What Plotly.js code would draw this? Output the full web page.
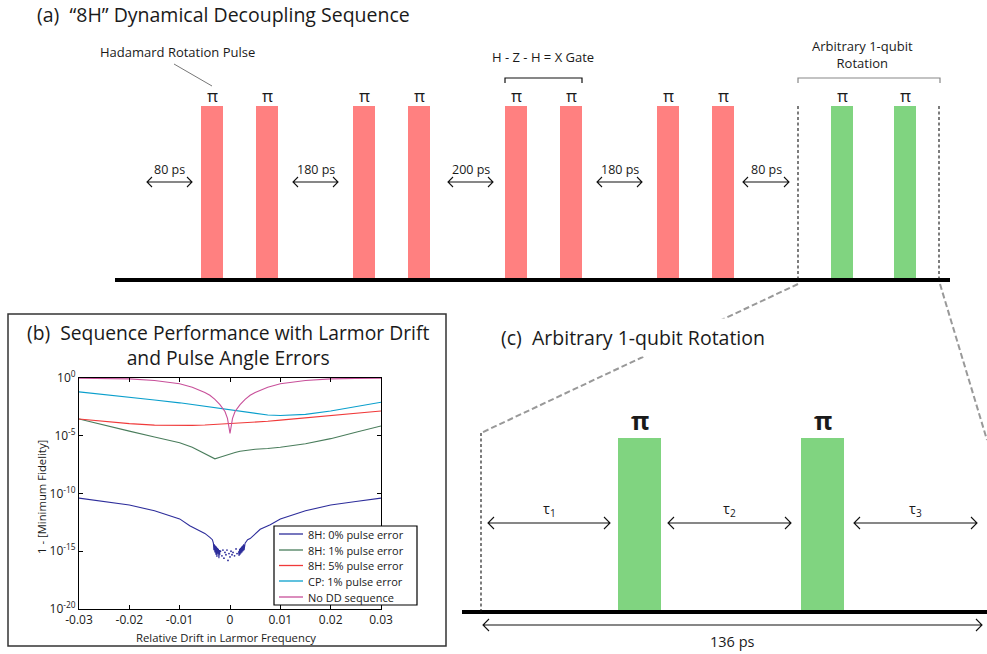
<!DOCTYPE html>
<html><head><meta charset="utf-8">
<script src="https://cdn.plot.ly/plotly-3.0.1.min.js"></script>
<style>html,body{margin:0;padding:0;background:#fff}#chart{width:987px;height:654px}</style>
</head><body><div id="chart"></div>
<script>
// ---------------- DATA (panel b) ----------------
const drift = [-0.03,-0.025,-0.02,-0.015,-0.01,-0.0075,-0.005,-0.004,-0.003,-0.002,-0.001,-0.0005,0,0.0005,0.001,0.002,0.003,0.004,0.005,0.0075,0.01,0.015,0.02,0.025,0.03];
const err8H1 = [2.8e-4,7.9e-5,2.5e-5,7.9e-6,2.5e-6,1.0e-6,2.8e-7,1.6e-7,1.0e-7,1.4e-7,2.0e-7,2.4e-7,2.8e-7,3.2e-7,3.5e-7,4.5e-7,5.2e-7,6.0e-7,6.8e-7,7.9e-7,1.0e-6,2.0e-6,5.6e-6,2.0e-5,7.1e-5];
const err8H5 = [2.8e-4,1.66e-4,1.12e-4,8.3e-5,7.6e-5,7.9e-5,8.5e-5,8.9e-5,9.3e-5,1.0e-4,1.05e-4,1.07e-4,1.12e-4,1.15e-4,1.17e-4,1.26e-4,1.32e-4,1.41e-4,1.51e-4,1.78e-4,2.24e-4,3.55e-4,5.62e-4,8.91e-4,1.41e-3];
const errCP1 = [0.0631,0.038,0.0224,0.0126,0.00708,0.00501,0.00355,0.00316,0.00269,0.00234,0.002,0.00191,0.00178,0.00166,0.00158,0.00135,0.00117,0.001,8.9e-4,6.3e-4,5.6e-4,7.1e-4,0.00141,0.00331,0.00794];
const errNoDD = [0.955,0.933,0.832,0.603,0.316,0.158,0.0562,0.0316,0.0141,0.00501,0.00126,3.16e-4,1.58e-5,3.16e-4,0.00126,0.00501,0.0141,0.0316,0.0562,0.158,0.316,0.603,0.832,0.933,0.955];
const drift8H0 = [-0.03,-0.025,-0.02,-0.015,-0.01,-0.008,-0.006,-0.005,-0.004,-0.0035,
  -0.0033,-0.0032,-0.0031,-0.003,-0.0029,-0.0028,-0.0027,-0.0026,-0.0025,-0.0024,-0.0023,-0.0022,-0.0021,-0.002,
  null,
  0.0017,0.0018,0.0019,0.002,0.0021,0.0022,0.0023,0.0024,0.0025,0.0026,0.0027,0.0028,0.003,
  0.0035,0.004,0.005,0.006,0.008,0.01,0.015,0.02,0.025,0.03];
const err8H0 = [4.0e-11,2.0e-11,1.0e-11,3.2e-12,6.3e-13,1.6e-13,6.3e-14,3.5e-14,1.6e-14,1.0e-14,
  5.0e-15,1.26e-15,4.0e-15,7.9e-16,3.2e-15,5.0e-16,2.5e-15,3.2e-16,2.0e-15,6.3e-16,1.6e-15,2.5e-16,1.26e-15,5.0e-16,
  null,
  1.0e-15,4.0e-16,1.6e-15,5.0e-16,2.0e-15,6.3e-16,2.5e-15,7.9e-16,3.2e-15,1.0e-15,4.0e-15,1.26e-15,5.0e-15,
  1.0e-14,1.26e-14,3.2e-14,7.9e-14,2.0e-13,6.3e-13,3.2e-12,1.0e-11,2.0e-11,4.0e-11];
const driftNoise = [-0.0019,-0.0016,-0.0014,-0.0012,-0.001,-0.0008,-0.0006,-0.0004,-0.0002,0,0.0002,0.0004,0.0006,0.0009,0.0012,0.0014];
const errNoise = [1.0e-15,4.0e-16,1.26e-15,2.5e-16,7.9e-16,5.0e-16,1.26e-15,1.6e-16,6.3e-16,3.2e-16,1.0e-15,5.0e-16,7.9e-16,4.0e-16,1.6e-15,6.3e-16];
const seriesNames = ['8H: 0% pulse error','8H: 1% pulse error','8H: 5% pulse error','CP: 1% pulse error','No DD sequence'];
const xTickVals = [-0.03,-0.02,-0.01,0,0.01,0.02,0.03];
const xTickLabels = ['-0.03','-0.02','-0.01','0','0.01','0.02','0.03'];
const yTickVals = [1e-20,1e-15,1e-10,1e-5,1];
const yTickLabels = ['10<sup>-20</sup>','10<sup>-15</sup>','10<sup>-10</sup>','10<sup>-5</sup>','10<sup>0</sup>'];

// ---------------- TEXT (panels a, c) ----------------
const gapLabels = ['80 ps','180 ps','200 ps','180 ps','80 ps'];
const tauLabels = ['τ<sub>1</sub>','τ<sub>2</sub>','τ<sub>3</sub>'];
const totalLabel = '136 ps';
const pulseLabel = 'π';

// ---------------- LAYOUT GEOMETRY (schematic, figure pixels) ----------------
const W = 987, H = 654;
const FONT = 'Open Sans';
const TXT = '#1a1a1a';
const geoA = {redX:[212,267,364,419,516,571,668,723], greenX:[842,905], w:22, top:106, bottom:278, lineY:280, x0:115, x1:950,
  gaps:[[147,192],[293,338],[448,493],[597,642],[743,789]], arrowY:182, labelY:169, piY:95, dashX:[798,939]};
const geoC = {greenX:[639.5,822.5], w:43, top:438, bottom:610, lineY:612, x0:462, x1:987,
  taus:[[488,610],[668,791],[854,977]], tauY:523, tauLabelY:509, piY:420, dashX:481, totY:625, totX:[483,982], totLabelY:641};
const geoLeg = {x0:274, x1:417, y0:526, y1:605, rows:[534,550,565.5,581,597], lineX:[279,303], textX:306};

const col = {b:'#2d2d9b', g:'#4a7d5c', r:'#f03a3a', c:'#0a9fcc', p:'#c8509a'};
const seriesColors = [col.b, col.g, col.r, col.c, col.p];

const traces = [
  {x:drift8H0, y:err8H0, name:seriesNames[0], mode:'lines', connectgaps:false, line:{color:col.b,width:1.1}, xaxis:'x', yaxis:'y'},
  {x:driftNoise, y:errNoise, name:seriesNames[0], mode:'markers', marker:{color:col.b,size:1.8}, xaxis:'x', yaxis:'y'},
  {x:drift, y:err8H1, name:seriesNames[1], mode:'lines', line:{color:col.g,width:1.1}, xaxis:'x', yaxis:'y'},
  {x:drift, y:err8H5, name:seriesNames[2], mode:'lines', line:{color:col.r,width:1.1}, xaxis:'x', yaxis:'y'},
  {x:drift, y:errCP1, name:seriesNames[3], mode:'lines', line:{color:col.c,width:1.1}, xaxis:'x', yaxis:'y'},
  {x:drift, y:errNoDD, name:seriesNames[4], mode:'lines', line:{color:col.p,width:1.1}, xaxis:'x', yaxis:'y'},
  {type:'bar', x:geoA.redX, y:geoA.redX.map(()=>geoA.top-geoA.bottom), base:geoA.bottom, width:geoA.w,
   marker:{color:'#ff8080',line:{width:0}}, hoverinfo:'skip', xaxis:'x2', yaxis:'y2'},
  {type:'bar', x:geoA.greenX, y:geoA.greenX.map(()=>geoA.top-geoA.bottom), base:geoA.bottom, width:geoA.w,
   marker:{color:'#80d480',line:{width:0}}, hoverinfo:'skip', xaxis:'x2', yaxis:'y2'},
  {type:'bar', x:geoC.greenX, y:geoC.greenX.map(()=>geoC.top-geoC.bottom), base:geoC.bottom, width:geoC.w,
   marker:{color:'#80d480',line:{width:0}}, hoverinfo:'skip', xaxis:'x2', yaxis:'y2'}
];

const shapes = [];
function ln(x0,y0,x1,y1,color,width,dash){ shapes.push({type:'line',xref:'x2',yref:'y2',x0,y0,x1,y1,line:{color,width,dash:dash||'solid'}}); }
function pth(p,color,width){ shapes.push({type:'path',xref:'x2',yref:'y2',path:p,line:{color,width}}); }
function dbl(x0,x1,y,h){ pth(`M${x0+h},${y-h} L${x0},${y} L${x0+h},${y+h} M${x0},${y} L${x1},${y} M${x1-h},${y-h} L${x1},${y} L${x1-h},${y+h}`,'#111',1.1); }

// panel a
ln(geoA.x0,geoA.lineY,geoA.x1,geoA.lineY,'#000',4);
geoA.dashX.forEach(x=>ln(x,geoA.top,x,geoA.lineY,'#111',1.1,'3px,2.5px'));
geoA.gaps.forEach(g=>dbl(g[0],g[1],geoA.arrowY,5));
ln(174,64,212,86,'#777',1);
pth('M505,83 L505,78 L582,78 L582,83','#111',1.2);
pth('M798,83 L798,78 L940,78 L940,83','#888',1.2);
// zoom lines
ln(798,284,481,433,'#999',2,'6px,3px');
ln(940,284,987,440,'#999',2,'6px,3px');
// panel c
ln(geoC.x0,geoC.lineY,geoC.x1,geoC.lineY,'#000',4);
ln(geoC.dashX,433,geoC.dashX,geoC.lineY,'#111',1.1,'3px,2.5px');
geoC.taus.forEach(t=>dbl(t[0],t[1],geoC.tauY,6));
dbl(geoC.totX[0],geoC.totX[1],geoC.totY,6);
// panel b frame
shapes.push({type:'rect',xref:'x2',yref:'y2',x0:8,y0:314,x1:446,y1:646,line:{color:'#333',width:1.5}});
// panel b legend box and samples
shapes.push({type:'rect',xref:'x2',yref:'y2',x0:geoLeg.x0,y0:geoLeg.y0,x1:geoLeg.x1,y1:geoLeg.y1,fillcolor:'#fff',line:{color:'#000',width:1.2}});
seriesNames.forEach((n,i)=>ln(geoLeg.lineX[0],geoLeg.rows[i],geoLeg.lineX[1],geoLeg.rows[i],seriesColors[i],1.3));

const ann = [];
function tx(x,y,text,size,o){ ann.push(Object.assign({xref:'x2',yref:'y2',x,y,text,showarrow:false,xanchor:'center',yanchor:'middle',font:{family:FONT,size,color:TXT}},o||{})); }
tx(35,14,'(a)\u00a0\u00a0\u201c8H\u201d Dynamical Decoupling Sequence',19.5,{xanchor:'left'});
tx(228,345,'(b)\u00a0\u00a0Sequence Performance with Larmor Drift<br>and Pulse Angle Errors',19.3);
tx(495,337,'(c)\u00a0\u00a0Arbitrary 1-qubit Rotation',19.5,{xanchor:'left',bgcolor:'#fff',borderpad:5});
tx(177,52,'Hadamard Rotation Pulse',13);
tx(543,57,'H - Z - H = X Gate',13);
tx(862,54,'Arbitrary 1-qubit<br>Rotation',13);
geoA.redX.concat(geoA.greenX).forEach(x=>tx(x,geoA.piY,pulseLabel,17));
geoA.gaps.forEach((g,i)=>tx((g[0]+g[1])/2,geoA.labelY,gapLabels[i],12.5));
geoC.greenX.forEach(x=>tx(x,geoC.piY,'<b>'+pulseLabel+'</b>',25));
geoC.taus.forEach((t,i)=>tx((t[0]+t[1])/2,geoC.tauLabelY,tauLabels[i],14.5));
tx((geoC.totX[0]+geoC.totX[1])/2,geoC.totLabelY,totalLabel,14.5);
// axis titles of panel b
tx(41,497,'1 - [Minimum Fidelity]',11.3,{textangle:-90});
tx(226,637,'Relative Drift in Larmor Frequency',11.3,{yanchor:'middle'});
// legend texts
seriesNames.forEach((n,i)=>tx(geoLeg.textX,geoLeg.rows[i],n,11,{xanchor:'left'}));

const axCommon = {showline:true, mirror:'ticks', linecolor:'#000', linewidth:1, ticks:'inside', ticklen:4, tickcolor:'#000',
  showgrid:false, zeroline:false, tickfont:{family:FONT,size:12,color:TXT}, tickmode:'array', fixedrange:true};

const layout = {
  width:W, height:H, margin:{l:0,r:0,t:0,b:0}, paper_bgcolor:'#fff', plot_bgcolor:'rgba(0,0,0,0)',
  font:{family:FONT,color:TXT}, barmode:'overlay', showlegend:false,
  xaxis:Object.assign({}, axCommon, {domain:[79/W,381/W], range:[-0.03,0.03], tickvals:xTickVals, ticktext:xTickLabels, anchor:'y', ticklabelstandoff:0}),
  yaxis:Object.assign({}, axCommon, {domain:[1-609/H,1-378/H], type:'log', range:[-20,0], tickvals:yTickVals, ticktext:yTickLabels, anchor:'x'}),
  xaxis2:{domain:[0,1], range:[0,W], visible:false, anchor:'y2', fixedrange:true},
  yaxis2:{domain:[0,1], range:[H,0], visible:false, anchor:'x2', fixedrange:true},
  shapes:shapes, annotations:ann
};

Plotly.newPlot('chart', traces, layout, {staticPlot:true, displayModeBar:false});
</script></body></html>
